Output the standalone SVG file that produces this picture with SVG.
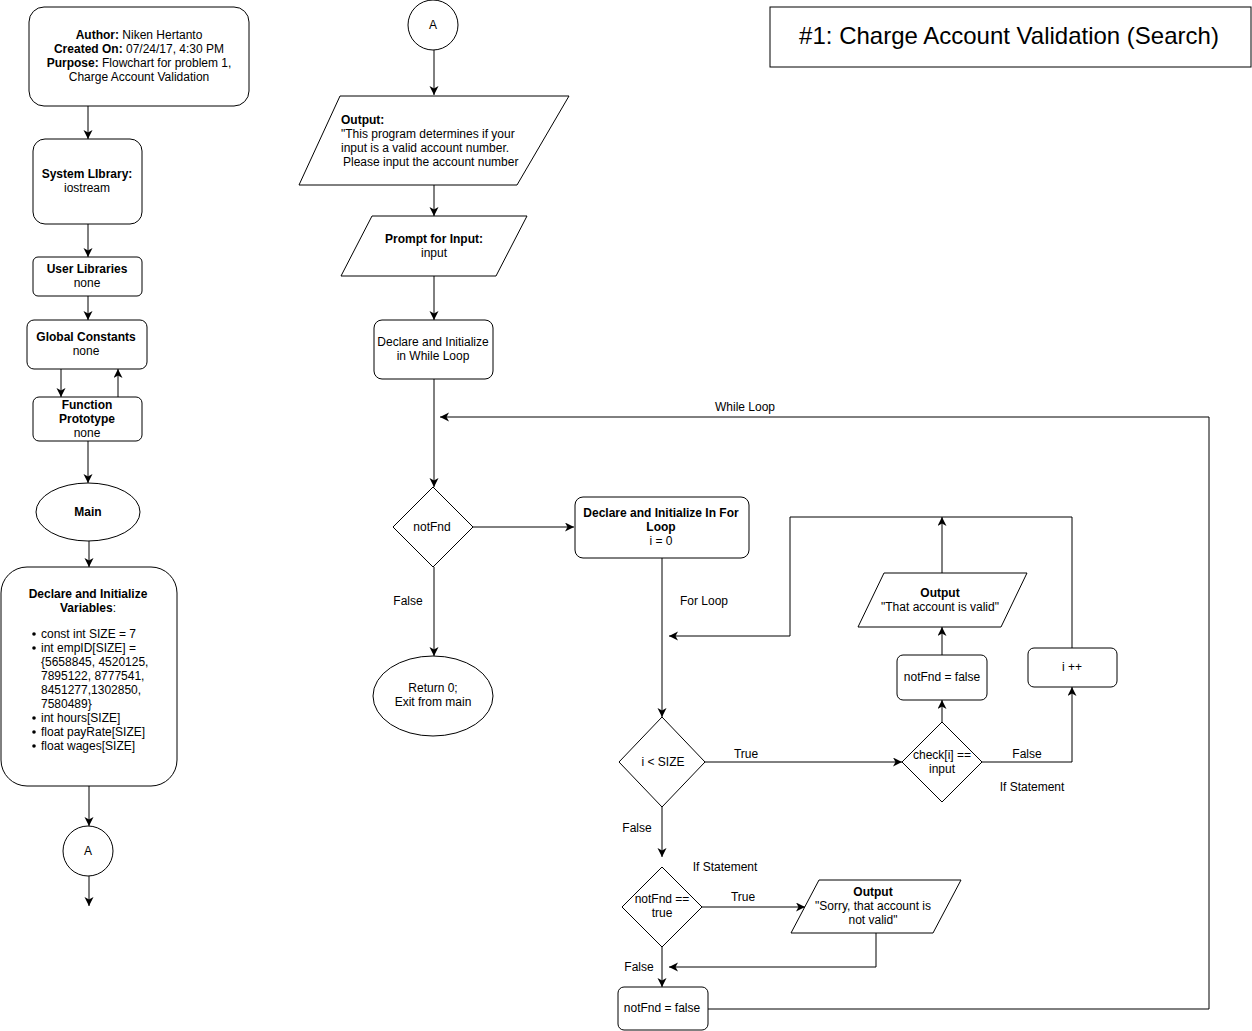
<svg xmlns="http://www.w3.org/2000/svg" width="1252" height="1031" viewBox="0 0 1252 1031">
<defs>
<marker id="ah" markerWidth="12" markerHeight="12" refX="9" refY="4.5" orient="auto" markerUnits="userSpaceOnUse">
<path d="M0,0 L9,4.5 L0,9 L2.5,4.5 z" fill="#000"/>
</marker>
<style>
.n{fill:#fff;stroke:#000;stroke-width:1}
.t{font-family:"Liberation Sans",Arial,sans-serif;font-size:12px;fill:#000;text-anchor:middle}
.l{text-anchor:start}
.b{font-weight:bold}
.c{fill:none;stroke:#000;stroke-width:1;marker-end:url(#ah)}
.p{fill:none;stroke:#000;stroke-width:1}
</style>
</defs>
<rect width="1252" height="1031" fill="#fff"/>
<g id="connectors">
<path class="c" d="M88,106 V139"/>
<path class="c" d="M88,224 V257"/>
<path class="c" d="M88,296 V320"/>
<path class="c" d="M61,369 V397"/>
<path class="c" d="M118,397 V369"/>
<path class="c" d="M88,441 V483"/>
<path class="c" d="M89,541 V567"/>
<path class="c" d="M89,786 V826"/>
<path class="c" d="M89,876 V906"/>
<path class="c" d="M434,50 V95"/>
<path class="c" d="M434,185 V216"/>
<path class="c" d="M434,276 V320"/>
<path class="c" d="M434,379 V487"/>
<path class="c" d="M708,1009 H1209 V417 H440"/>
<path class="c" d="M473,527 H574"/>
<path class="c" d="M434,567 V656"/>
<path class="c" d="M662,558 V717"/>
<path class="c" d="M705,762 H902"/>
<path class="c" d="M942,722 V700"/>
<path class="c" d="M942,655 V627"/>
<path class="c" d="M942,573 V517"/>
<path class="c" d="M1072,648 V517 H790 V636 H669"/>
<path class="c" d="M982,762 H1072 V687"/>
<path class="c" d="M662,807 V857"/>
<path class="c" d="M702,907 H805"/>
<path class="c" d="M876,933 V967 H669"/>
<path class="c" d="M662,947 V987"/>
<text class="t" x="745" y="411">While Loop</text>
<text class="t" x="408" y="605">False</text>
<text class="t" x="704" y="605">For Loop</text>
<text class="t" x="746" y="758">True</text>
<text class="t" x="1027" y="758">False</text>
<text class="t" x="1032" y="791">If Statement</text>
<text class="t" x="637" y="832">False</text>
<text class="t" x="725" y="871">If Statement</text>
<text class="t" x="743" y="901">True</text>
<text class="t" x="639" y="971">False</text>
</g>
<g id="title">
<rect x="770" y="7" width="481" height="60" class="n"/>
<text class="t" x="1009" y="44" style="font-size:24px">#1: Charge Account Validation (Search)</text>
</g>
<g id="author">
<rect x="29" y="7" width="220" height="99" rx="15" class="n"/>
<text class="t" x="139" y="39"><tspan class="b">Author:</tspan> Niken Hertanto</text>
<text class="t" x="139" y="53"><tspan class="b">Created On:</tspan> 07/24/17, 4:30 PM</text>
<text class="t" x="139" y="67"><tspan class="b">Purpose:</tspan> Flowchart for problem 1,</text>
<text class="t" x="139" y="81">Charge Account Validation</text>
</g>
<g id="syslib">
<rect x="33" y="139" width="109" height="85" rx="12" class="n"/>
<text class="t b" x="87" y="178">System LIbrary:</text>
<text class="t" x="87" y="192">iostream</text>
</g>
<g id="userlib">
<rect x="33" y="257" width="109" height="39" rx="5" class="n"/>
<text class="t b" x="87" y="273">User Libraries</text>
<text class="t" x="87" y="287">none</text>
</g>
<g id="globals">
<rect x="27" y="320" width="120" height="49" rx="7" class="n"/>
<text class="t b" x="86" y="341">Global Constants</text>
<text class="t" x="86" y="355">none</text>
</g>
<g id="proto">
<rect x="33" y="397" width="109" height="44" rx="6" class="n"/>
<text class="t b" x="87" y="409">Function</text>
<text class="t b" x="87" y="423">Prototype</text>
<text class="t" x="87" y="437">none</text>
</g>
<g id="main">
<ellipse cx="88" cy="512" rx="52" ry="29" class="n"/>
<text class="t b" x="88" y="516">Main</text>
</g>
<g id="vars">
<rect x="1" y="567" width="176" height="219" rx="26" class="n"/>
<text class="t b" x="88" y="598">Declare and Initialize</text>
<text class="t" x="88" y="612"><tspan class="b">Variables</tspan>:</text>
<circle cx="34" cy="634" r="1.8"/><text class="t l" x="41" y="638">const int SIZE = 7</text>
<circle cx="34" cy="648" r="1.8"/><text class="t l" x="41" y="652">int empID[SIZE] =</text>
<text class="t l" x="41" y="666">{5658845, 4520125,</text>
<text class="t l" x="41" y="680">7895122, 8777541,</text>
<text class="t l" x="41" y="694">8451277,1302850,</text>
<text class="t l" x="41" y="708">7580489}</text>
<circle cx="34" cy="718" r="1.8"/><text class="t l" x="41" y="722">int hours[SIZE]</text>
<circle cx="34" cy="732" r="1.8"/><text class="t l" x="41" y="736">float payRate[SIZE]</text>
<circle cx="34" cy="746" r="1.8"/><text class="t l" x="41" y="750">float wages[SIZE]</text>
</g>
<g id="connA1">
<circle cx="88" cy="851" r="25" class="n"/>
<text class="t" x="88" y="855">A</text>
</g>
<g id="connA2">
<circle cx="433" cy="25" r="25" class="n"/>
<text class="t" x="433" y="29">A</text>
</g>
<g id="output1">
<polygon points="340,96 569,96 517,185 299,185" class="n"/>
<text class="t l b" x="341" y="124">Output:</text>
<text class="t l" x="341" y="138">"This program determines if your</text>
<text class="t l" x="341" y="152">input is a valid account number.</text>
<text class="t l" x="343" y="166">Please input the account number</text>
</g>
<g id="prompt">
<polygon points="372,216 527,216 496,276 341,276" class="n"/>
<text class="t b" x="434" y="243">Prompt for Input:</text>
<text class="t" x="434" y="257">input</text>
</g>
<g id="declwhile">
<rect x="374" y="320" width="119" height="59" rx="8" class="n"/>
<text class="t" x="433" y="346">Declare and Initialize</text>
<text class="t" x="433" y="360">in While Loop</text>
</g>
<g id="notfnd">
<polygon points="433,487 473,527 433,567 393,527" class="n"/>
<text class="t" x="432" y="531">notFnd</text>
</g>
<g id="return">
<ellipse cx="433" cy="696" rx="60" ry="40" class="n"/>
<text class="t" x="433" y="692">Return 0;</text>
<text class="t" x="433" y="706">Exit from main</text>
</g>
<g id="declfor">
<rect x="575" y="497" width="174" height="61" rx="8" class="n"/>
<text class="t b" x="661" y="517">Declare and Initialize In For</text>
<text class="t b" x="661" y="531">Loop</text>
<text class="t" x="661" y="545">i = 0</text>
</g>
<g id="isize">
<polygon points="662,717 705,762 662,807 619,762" class="n"/>
<text class="t" x="663" y="766">i &lt; SIZE</text>
</g>
<g id="check">
<polygon points="942,722 982,762 942,802 902,762" class="n"/>
<text class="t" x="942" y="759">check[i] ==</text>
<text class="t" x="942" y="773">input</text>
</g>
<g id="setfalse1">
<rect x="897" y="655" width="90" height="45" rx="6" class="n"/>
<text class="t" x="942" y="681">notFnd = false</text>
</g>
<g id="validout">
<polygon points="884,573 1027,573 1001,627 858,627" class="n"/>
<text class="t b" x="940" y="597">Output</text>
<text class="t" x="940" y="611">"That account is valid"</text>
</g>
<g id="incr">
<rect x="1028" y="648" width="89" height="39" rx="6" class="n"/>
<text class="t" x="1072" y="671">i ++</text>
</g>
<g id="notfndtrue">
<polygon points="662,867 702,907 662,947 622,907" class="n"/>
<text class="t" x="662" y="903">notFnd ==</text>
<text class="t" x="662" y="917">true</text>
</g>
<g id="sorryout">
<polygon points="819,880 961,880 933,933 791,933" class="n"/>
<text class="t b" x="873" y="896">Output</text>
<text class="t" x="873" y="910">"Sorry, that account is</text>
<text class="t" x="873" y="924">not valid"</text>
</g>
<g id="setfalse2">
<rect x="618" y="987" width="90" height="43" rx="6" class="n"/>
<text class="t" x="662" y="1012">notFnd = false</text>
</g>
</svg>
